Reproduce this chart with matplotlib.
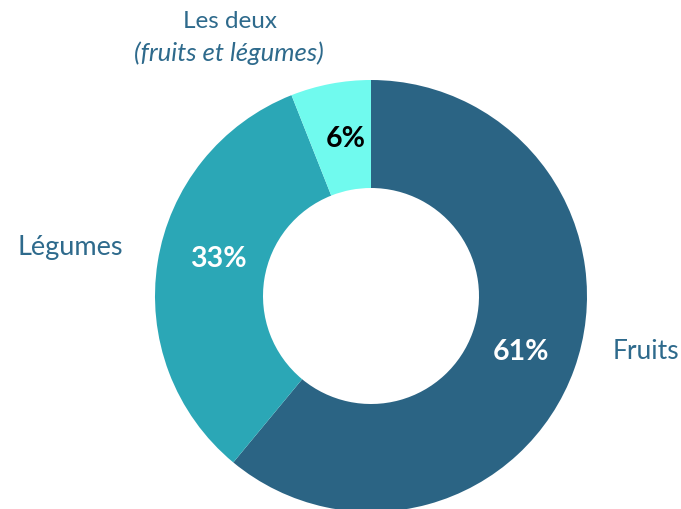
import matplotlib.pyplot as plt

plt.rcParams['font.family'] = ['Lato', 'DejaVu Sans']

labels = ["Fruits", "Légumes", "Les deux"]
values = [61, 33, 6]
pct_labels = ["61%", "33%", "6%"]
colors = ["#2B6484", "#2BA7B6", "#70FAEE"]
pct_colors = ["white", "white", "black"]

W, H = 681, 510
fig = plt.figure(figsize=(W / 100, H / 100), dpi=100)
ax = fig.add_axes([0, 0, 1, 1])

cx, cy, R = 371, 297, 216
# pie draws with y up, so the centre uses negative y (pixel rows from the top)
ax.pie(values, colors=colors, startangle=90, counterclock=False,
       center=(cx, -cy), radius=R, wedgeprops=dict(width=R * 0.5, linewidth=0),
       frame=True)
ax.set_xlim(0, W)
ax.set_ylim(-H, 0)
ax.set_aspect("auto")
ax.axis("off")

# percentages inside the ring
pct_pos = [(521, 352), (218, 259), (346, 139)]
for (x, y), t, c in zip(pct_pos, pct_labels, pct_colors):
    ax.text(x, -y, t, ha="center", va="center", fontsize=20.5, fontweight="bold", color=c)

lab_color = "#2E6A8C"
ax.text(613, -352, "Fruits", ha="left", va="center", fontsize=19, color=lab_color)
ax.text(70, -248, "Légumes", ha="center", va="center", fontsize=19.5, color=lab_color)
ax.text(230, -22, "Les deux", ha="center", va="center", fontsize=17.5, color=lab_color)
ax.text(229, -53, "(fruits et légumes)", ha="center", va="center", fontsize=18.5,
        color=lab_color, style="italic")

fig.savefig("out.png", dpi=100)
